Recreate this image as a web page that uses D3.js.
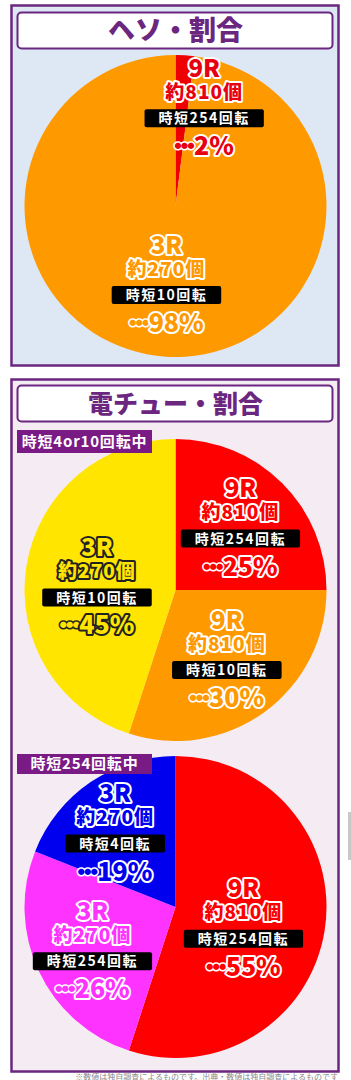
<!DOCTYPE html>
<html>
<head>
<meta charset="utf-8">
<script src="https://cdn.jsdelivr.net/npm/d3@7"></script>
<style>
  html, body { margin: 0; padding: 0; background: #fff; }
  svg { display: block; font-family: "Noto Sans CJK JP", "Noto Sans", sans-serif; }
</style>
</head>
<body>
<svg id="chart" width="351" height="1080"></svg>
<script>
// ヘソ
var hesoRounds = ["9R", "3R"];
var hesoBalls = ["約810個", "約270個"];
var hesoJitan = ["時短254回転", "時短10回転"];
var hesoShare = [2, 98];

// 電チュー (時短4or10回転中)
var den1Rounds = ["9R", "9R", "3R"];
var den1Balls = ["約810個", "約810個", "約270個"];
var den1Jitan = ["時短254回転", "時短10回転", "時短10回転"];
var den1Share = [25, 30, 45];

// 電チュー (時短254回転中)
var den2Rounds = ["9R", "3R", "3R"];
var den2Balls = ["約810個", "約270個", "約270個"];
var den2Jitan = ["時短254回転", "時短254回転", "時短4回転"];
var den2Share = [55, 26, 19];

var titles = ["ヘソ・割合", "電チュー・割合"];
var tags = ["時短4or10回転中", "時短254回転中"];

var purple = "#6b2680";
var svg = d3.select("#chart");

// panels
function panel(y, h, bg) {
    svg.append("rect")
        .attr("x", 11.5).attr("y", y).attr("width", 327).attr("height", h)
        .attr("fill", bg).attr("stroke", purple).attr("stroke-width", 2.5);
}
function titleBox(y, txt, size) {
    svg.append("rect")
        .attr("x", 17.5).attr("y", y).attr("width", 315).attr("height", 36)
        .attr("rx", 4).attr("fill", "#fff").attr("stroke", purple).attr("stroke-width", 2);
    svg.append("text")
        .attr("x", 175.5).attr("y", y + 18).attr("dy", "0.36em")
        .attr("text-anchor", "middle").attr("font-size", size).attr("font-weight", 900)
        .attr("fill", purple).text(txt);
}

panel(5.5, 360, "#dde8f4");
titleBox(12.5, titles[0], 27);
panel(379.5, 692, "#f5ecf3");
titleBox(385.5, titles[1], 25);

var bottomLayer = svg.append("g");
var topLayer = svg.append("g");

function tag(y, h, txt) {
    topLayer.append("rect")
        .attr("x", 17).attr("y", y).attr("width", 135).attr("height", h)
        .attr("fill", "#7a1a84");
    topLayer.append("text")
        .attr("x", 84.5).attr("y", y + h / 2).attr("dy", "0.36em")
        .attr("text-anchor", "middle")
        .attr("font-size", 15).attr("font-weight", 700).attr("letter-spacing", 0.8)
        .attr("fill", "#fff")
        .text(txt);
}

var pie = d3.pie().sort(null).value(function (d) { return d; });

function drawPie(opts) {
    var g = bottomLayer.append("g").attr("transform", "translate(" + opts.cx + "," + opts.cy + ")");
    var arc = d3.arc().innerRadius(0).outerRadius(opts.r);
    var arcs = pie(opts.share);

    g.selectAll("path.slice")
        .data(arcs)
        .enter().append("path")
        .attr("class", "slice")
        .attr("d", arc)
        .attr("fill", function (d, i) { return opts.colors[i]; });

    var lab = g.selectAll("g.lab")
        .data(arcs)
        .enter().append("g")
        .attr("class", "lab")
        .attr("transform", function (d, i) {
            var o = opts.offsets[i];
            return "translate(" + (o[0] * opts.r) + "," + (o[1] * opts.r) + ")";
        });

    function outline(sel) {
        sel.attr("text-anchor", "middle")
            .attr("font-weight", 900)
            .attr("fill", function (d, i) { return opts.textFill[i]; })
            .attr("stroke", function (d, i) { return opts.textStroke[i]; })
            .attr("stroke-width", 4)
            .attr("stroke-linejoin", "round")
            .attr("paint-order", "stroke");
    }

    lab.append("text")
        .attr("y", -38).attr("dy", "0.36em")
        .attr("font-size", 24)
        .text(function (d, i) { return opts.rounds[i]; })
        .call(outline);

    lab.append("text")
        .attr("y", -14).attr("dy", "0.36em")
        .attr("font-size", 19).attr("letter-spacing", 1)
        .text(function (d, i) { return opts.balls[i]; })
        .call(outline);

    lab.each(function (d, i) {
        var gg = d3.select(this);
        var t = gg.append("text")
            .attr("y", 12).attr("dy", "0.36em")
            .attr("text-anchor", "middle")
            .attr("font-size", 14).attr("font-weight", 700)
            .attr("letter-spacing", 1.5)
            .attr("fill", "#fff")
            .text(opts.jitan[i]);
        var w = t.node().getComputedTextLength() + 28;
        gg.insert("rect", "text:last-child")
            .attr("x", -w / 2).attr("y", 3).attr("width", w).attr("height", 18)
            .attr("rx", 2).attr("fill", "#000");
    });

    var pct = lab.append("text")
        .attr("y", 40)
        .attr("font-size", 25)
        .call(outline);
    pct.append("tspan").attr("font-size", 7).attr("dy", 2).attr("letter-spacing", -0.5)
        .attr("stroke-width", 3).text("●●●");
    pct.append("tspan").attr("dy", 7)
        .text(function (d) { return d.data + "%"; });
}

drawPie({
    cx: 175.5, cy: 206, r: 151,
    share: hesoShare, rounds: hesoRounds, balls: hesoBalls, jitan: hesoJitan,
    colors: ["#ee0000", "#ff9900"],
    textFill: ["#e60012", "#ff9900"],
    textStroke: ["#fff", "#fff"],
    offsets: [[0.19, -0.66], [-0.06, 0.51]]
});

tag(430, 23, tags[0]);
drawPie({
    cx: 175.5, cy: 590, r: 151,
    share: den1Share, rounds: den1Rounds, balls: den1Balls, jitan: den1Jitan,
    colors: ["#ff0000", "#ff9900", "#ffe500"],
    textFill: ["#ff0000", "#ff9900", "#ffe500"],
    textStroke: ["#fff", "#fff", "#222"],
    offsets: [[0.43, -0.42], [0.34, 0.45], [-0.52, -0.03]]
});

tag(754, 20, tags[1]);
drawPie({
    cx: 175.5, cy: 907, r: 151,
    share: den2Share, rounds: den2Rounds, balls: den2Balls, jitan: den2Jitan,
    colors: ["#ff0000", "#ff33ff", "#0000ee"],
    textFill: ["#ff0000", "#ff33ff", "#0000ee"],
    textStroke: ["#fff", "#fff", "#fff"],
    offsets: [[0.45, 0.13], [-0.55, 0.28], [-0.40, -0.50]]
});

// footnote (runs into page bottom)
svg.append("text")
    .attr("x", 338).attr("y", 1080)
    .attr("text-anchor", "end").attr("font-size", 8).attr("fill", "#888")
    .text("※数値は独自調査によるものです。出典・数値は独自調査によるものです");

// page scroll mark
svg.append("rect")
    .attr("x", 348).attr("y", 812).attr("width", 3).attr("height", 48)
    .attr("fill", "#c8c8c8");
</script>
</body>
</html>
